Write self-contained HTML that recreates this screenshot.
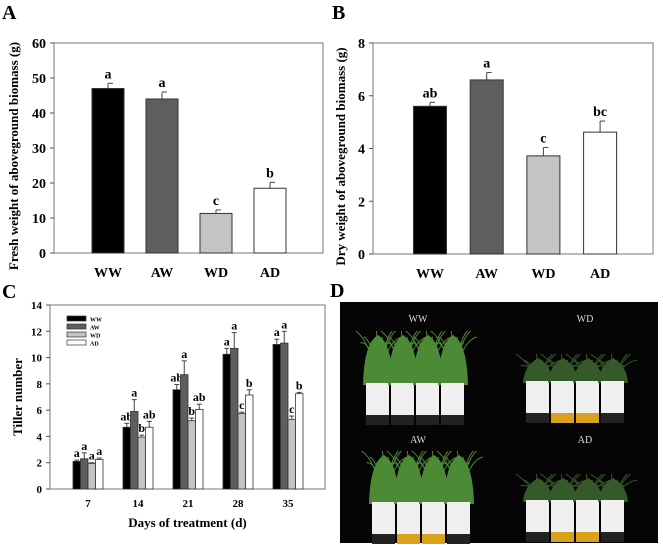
<!DOCTYPE html>
<html><head><meta charset="utf-8"><style>
body{margin:0;background:#fff;}
svg{display:block;font-family:"Liberation Serif",serif;}
</style></head><body>
<svg id="fig" width="663" height="545" viewBox="0 0 663 545" xmlns="http://www.w3.org/2000/svg">
<g id="pd"></g>
</svg>
<script>
// Panel A data
const catsAB = ["WW","AW","WD","AD"];
const freshVals = [47, 44, 11.3, 18.5];
const freshErr = [1.5, 2, 1, 1.7];
const freshLetters = ["a","a","c","b"];
const freshTicks = [0,10,20,30,40,50,60];
// Panel B data
const dryVals = [5.6, 6.6, 3.72, 4.62];
const dryErr = [0.15, 0.28, 0.32, 0.42];
const dryLetters = ["ab","a","c","bc"];
const dryTicks = [0,2,4,6,8];
// Panel C data
const days = ["7","14","21","28","35"];
const seriesNames = ["WW","AW","WD","AD"];
const tillerWW = [2.1, 4.7, 7.55, 10.25, 11.0];
const tillerAW = [2.3, 5.9, 8.7, 10.7, 11.1];
const tillerWD = [1.95, 3.95, 5.2, 5.75, 5.3];
const tillerAD = [2.25, 4.7, 6.05, 7.15, 7.25];
const errWW = [0.1, 0.3, 0.4, 0.45, 0.4];
const errAW = [0.45, 0.9, 1.05, 1.2, 0.9];
const errWD = [0.05, 0.15, 0.2, 0.1, 0.25];
const errAD = [0.1, 0.45, 0.4, 0.4, 0.1];
const lettersC = [["a","a","a","a"],["ab","a","b","ab"],["ab","a","b","ab"],["a","a","c","b"],["a","a","c","b"]];
const tillerTicks = [0,2,4,6,8,10,12,14];

const fills = ["#000000","#5e5e5e","#c4c4c4","#ffffff"];
const NS = "http://www.w3.org/2000/svg";
const svg = document.getElementById('fig');
function mk(tag, attrs, parent, text){
  const e = document.createElementNS(NS, tag);
  for (const k in attrs) e.setAttribute(k, attrs[k]);
  if (text !== undefined) e.textContent = text;
  (parent||svg).appendChild(e);
  return e;
}

function barPanel(o){
  const g = mk('g', {});
  
  
  const y = v => o.y1 - (v - 0) / o.max * (o.y1 - o.y0);
  const lbl = mk('text', {x:o.lx, y:o.ly, 'font-size':20, 'font-weight':'bold'}, g, o.letter);
  
  
  const box = mk('rect', {x:o.x0, y:o.y0, width:o.x1-o.x0, height:o.y1-o.y0, fill:'none', stroke:'#777', 'stroke-width':1}, g);
  
  
  o.ticks.forEach(t => {
    const ty = y(t);
    const tk = mk('line', {x1:o.x0-4, x2:o.x0, y1:ty, y2:ty, stroke:'#555'}, g);
    
    
    const tl = mk('text', {x:o.x0-8, y:ty+5, 'font-size':14, 'font-weight':'bold', 'text-anchor':'end'}, g, String(t));
    
    
  });
  const bw = o.bw;
  o.vals.forEach((v,i) => {
    const cx = o.cx0 + i*o.step;
    const top = y(v), et = y(v + o.err[i]);
    const eb = mk('line', {x1:cx, x2:cx, y1:top, y2:et, stroke:'#444'}, g);
    
    
    const ec = mk('line', {x1:cx, x2:cx+5, y1:et, y2:et, stroke:'#444'}, g);
    
    
    const b = mk('rect', {x:cx-bw/2, y:top, width:bw, height:o.y1-top, fill:fills[i], stroke:'#333', 'stroke-width':1}, g);
    
    
    const lt = mk('text', {x:cx, y:et-5, 'font-size':14, 'font-weight':'bold', 'text-anchor':'middle'}, g, o.letters[i]);
    
    
    const xl = mk('text', {x:cx, y:o.y1+24, 'font-size':14, 'font-weight':'bold', 'text-anchor':'middle'}, g, o.cats[i]);
    
    
  });
  const yt = mk('text', {transform:`translate(${o.tx},${(o.y0+o.y1)/2+8}) rotate(-90)`, 'font-size':13, 'font-weight':'bold', 'text-anchor':'middle'}, g, o.title);
  
  
}

barPanel({name:'fresh-weight-chart', letter:'A', lx:2, ly:19, x0:54, x1:323, y0:43, y1:253, max:60, ticks:freshTicks,
  vals:freshVals, err:freshErr, letters:freshLetters, cats:catsAB, cx0:108, step:54, bw:32, tx:18, title:'Fresh weight of aboveground biomass (g)'});
barPanel({name:'dry-weight-chart', letter:'B', lx:332, ly:19, x0:373, x1:653, y0:43, y1:254, max:8, ticks:dryTicks,
  vals:dryVals, err:dryErr, letters:dryLetters, cats:catsAB, cx0:430, step:56.7, bw:33, tx:345, title:'Dry weight of aboveground biomass (g)'});

// Panel C
(function(){
  const g = mk('g', {});
  
  
  const x0=50, x1=325, y0=305, y1=489, max=14;
  const y = v => y1 - v/max*(y1-y0);
  const lbl = mk('text', {x:2, y:298, 'font-size':20, 'font-weight':'bold'}, g, 'C');
  
  
  const box = mk('rect', {x:x0, y:y0, width:x1-x0, height:y1-y0, fill:'none', stroke:'#777'}, g);
  
  
  tillerTicks.forEach(t => {
    const ty = y(t);
    const tk = mk('line', {x1:x0-4, x2:x0, y1:ty, y2:ty, stroke:'#555'}, g);
    
    
    const tl = mk('text', {x:x0-8, y:ty+4, 'font-size':11, 'font-weight':'bold', 'text-anchor':'end'}, g, String(t));
    
    
  });
  const series = [tillerWW, tillerAW, tillerWD, tillerAD];
  const errs = [errWW, errAW, errWD, errAD];
  const bw = 7.5;
  days.forEach((d,i) => {
    const gc = 88 + i*50;
    series.forEach((s,j) => {
      const cx = gc + (j-1.5)*bw;
      const top = y(s[i]), et = y(s[i]+errs[j][i]);
      const eb = mk('line', {x1:cx, x2:cx, y1:top, y2:et, stroke:'#444'}, g);
      
      
      const ec = mk('line', {x1:cx-2.5, x2:cx+2.5, y1:et, y2:et, stroke:'#444'}, g);
      
      
      const b = mk('rect', {x:cx-bw/2, y:top, width:bw, height:y1-top, fill:fills[j], stroke:'#333', 'stroke-width':0.8}, g);
      
      
      const lt = mk('text', {x:cx, y:et-3, 'font-size':12, 'font-weight':'bold', 'text-anchor':'middle'}, g, lettersC[i][j]);
      
      
    });
    const xl = mk('text', {x:gc, y:y1+18, 'font-size':11, 'font-weight':'bold', 'text-anchor':'middle'}, g, d);
    
    
  });
  seriesNames.forEach((n,j) => {
    const sw = mk('rect', {x:67, y:316+j*8, width:19, height:5, fill:fills[j], stroke:'#333', 'stroke-width':0.7}, g);
    
    
    const lt = mk('text', {x:90, y:321.5+j*8, 'font-size':6, 'font-weight':'bold'}, g, n);
    
    
  });
  const xt = mk('text', {x:(x0+x1)/2, y:527, 'font-size':13, 'font-weight':'bold', 'text-anchor':'middle'}, g, 'Days of treatment (d)');
  
  
  const yt = mk('text', {transform:`translate(22,${(y0+y1)/2}) rotate(-90)`, 'font-size':13, 'font-weight':'bold', 'text-anchor':'middle'}, g, 'Tiller number');
  
  
})();

// Panel D photo (illustration)
(function(){
  const g = document.getElementById('pd');
  const lbl = mk('text', {x:330, y:297, 'font-size':20, 'font-weight':'bold'}, g, 'D');
  
  
  const bg = mk('rect', {x:340, y:302, width:318, height:241, fill:'#050505'}, g);
  
  
  const groups = [
    {t:'WW', tx:418, ty:322, px:366, py:383, grassTop:335, tall:true, yellow:false},
    {t:'WD', tx:585, ty:322, px:526, py:381, grassTop:358, tall:false, yellow:true},
    {t:'AW', tx:418, ty:443, px:372, py:502, grassTop:455, tall:true, yellow:true},
    {t:'AD', tx:585, ty:443, px:526, py:500, grassTop:478, tall:false, yellow:true}
  ];
  const bladeDx = [-14,-9,-5,-1,3,7,11,15,-11,9];
  groups.forEach(o => {
    const tl = mk('text', {x:o.tx, y:o.ty, 'font-size':10, fill:'#ddd', 'text-anchor':'middle'}, g, o.t);
    
    
    const col = o.tall ? '#4d8a36' : '#36592a';
    for (let k=0;k<4;k++){
      const x = o.px + k*25;
      const gr = mk('path', {d:`M${x-3},${o.py+2} Q${x-2},${o.grassTop+8} ${x+12},${o.grassTop} Q${x+26},${o.grassTop+8} ${x+27},${o.py+2} Z`, fill:col}, g);
      
      
      bladeDx.forEach((dx,m) => {
        const bl = mk('path', {d:`M${x+12},${o.py} Q${x+12+dx*0.6},${o.grassTop+5} ${x+12+dx*1.6},${o.grassTop-4+(m%3)*6}`, stroke:col, 'stroke-width':1, fill:'none'}, g);
        
        
      });
      const pot = mk('rect', {x:x, y:o.py, width:23, height:32, fill:'#f0f0f0'}, g);
      
      
      const base = mk('rect', {x:x, y:o.py+32, width:23, height:10, fill:(o.yellow && (k==1||k==2)) ? '#d9a21a' : '#222'}, g);
      
      
    }
  });
})();
</script>
</body></html>
